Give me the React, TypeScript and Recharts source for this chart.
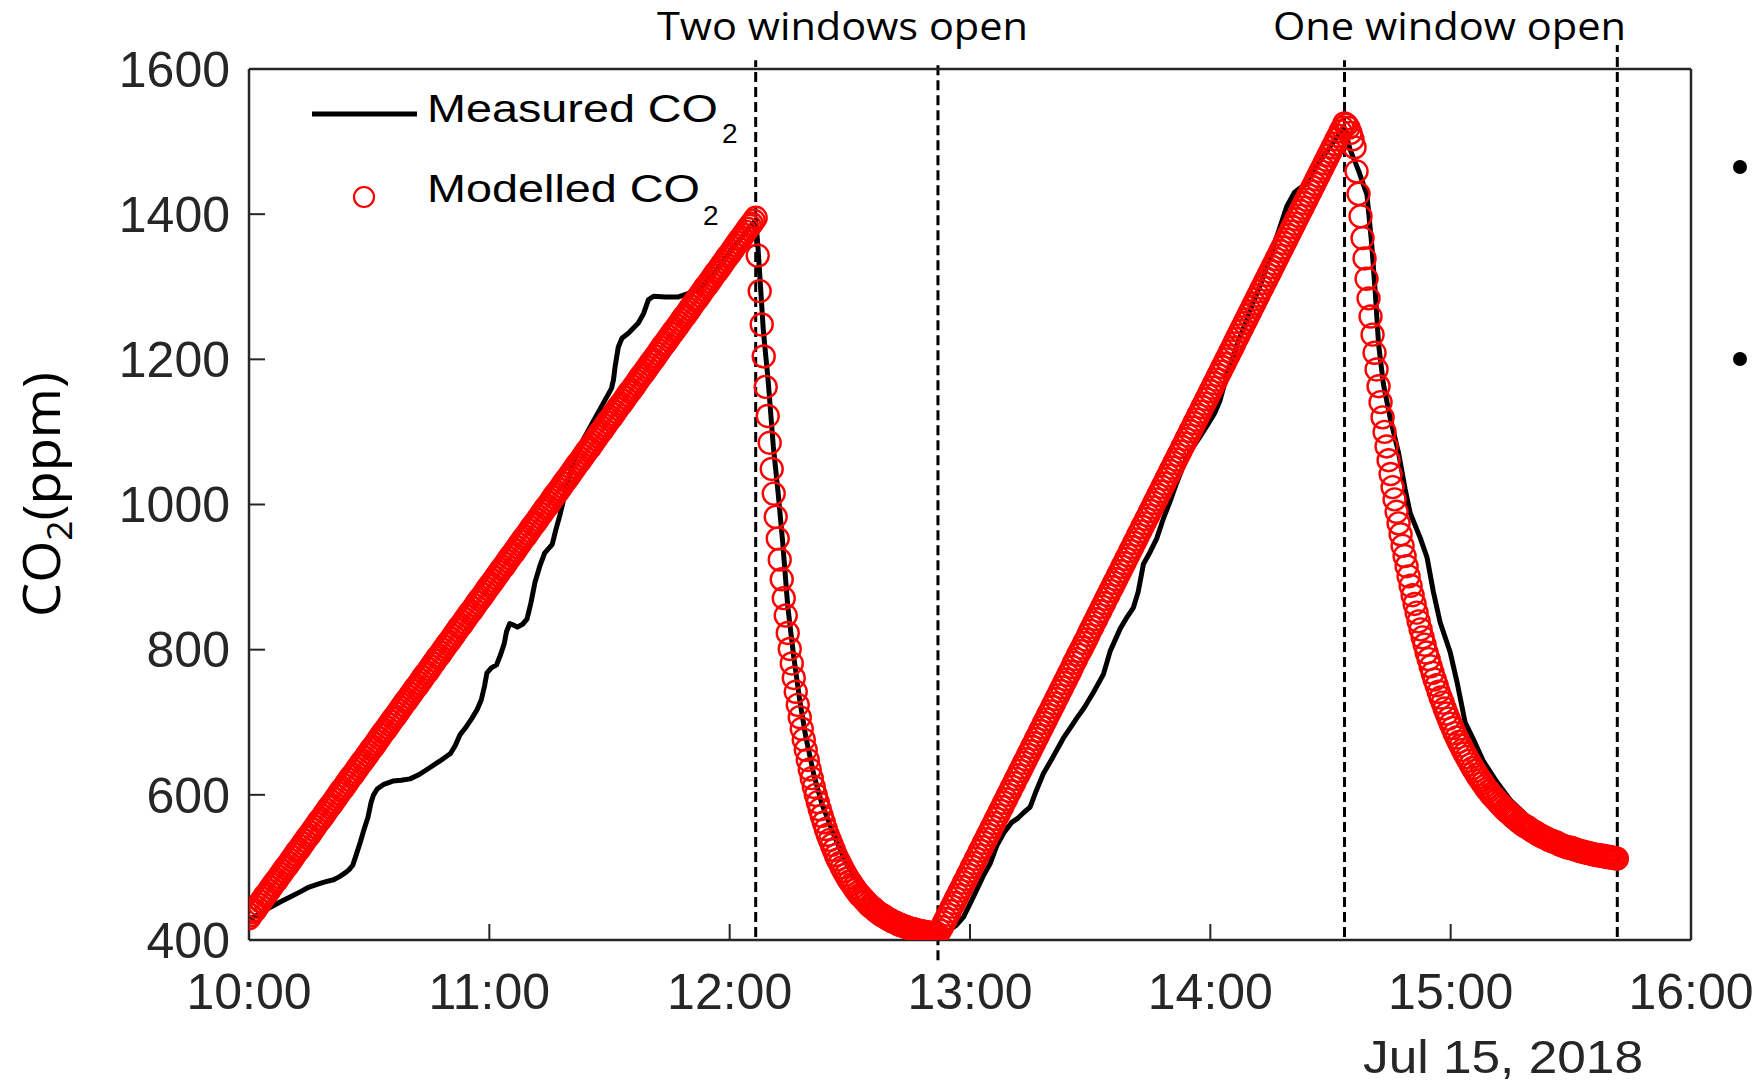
import React from 'react';
import { ComposedChart, XAxis, YAxis, Line, Scatter, ReferenceLine, Customized } from 'recharts';

// x values are minutes after 10:00 on Jul 15, 2018
const timeTicks = [0, 60, 120, 180, 240, 300, 360];
const timeLabels = ['10:00', '11:00', '12:00', '13:00', '14:00', '15:00', '16:00'];
const co2Ticks = [400, 600, 800, 1000, 1200, 1400, 1600];

const measuredMinutes = [
  0, 1.4, 3.5, 5.7, 8, 10.5, 13, 15, 17.2, 19, 21.1, 22.5, 23.9, 25, 25.9, 26.8, 27.8, 28.7, 29.7, 30.5,
  31.1, 32, 33.5, 35.9, 38, 40.2, 42.5, 45, 47.5, 50.3, 51.5, 52.7, 54, 55.6, 57, 58, 58.8, 59.4, 60.5, 61.8,
  62.8, 63.7, 64.3, 65.1, 66, 67, 68.3, 69.4, 70.4, 71.4, 72.6, 73.8, 75.7, 76.6, 77.6, 78.6, 79.5, 81.4, 83.5, 86,
  88.5, 90.5, 91, 91.4, 92.2, 93.1, 94.7, 97.2, 98.5, 99.7, 101, 104, 107.2, 112, 116, 120, 124, 126.5, 127, 127.6,
  128.4, 129.6, 130.9, 132.1, 133.2, 134.5, 136, 137.5, 139, 141, 143, 146, 149, 152, 155, 158, 161, 164, 167, 170,
  172, 173.5, 175, 176.5, 178.4, 180.9, 183.3, 185, 186.7, 188.5, 190.4, 192, 193.5, 195, 196.5, 198.3, 200.5, 203.3, 205, 206.7,
  208.5, 210.8, 213.3, 215, 217.5, 219, 220.8, 222, 223.3, 225, 226.6, 228.3, 230, 231.6, 234.1, 235.8, 237.5, 239.1, 241, 242.4,
  244.5, 247, 250, 253, 256.6, 259.1, 261, 262.4, 263.5, 266, 269, 271.5, 273.5, 274.9, 277, 279.1, 280.3, 281.2, 282, 283.2,
  284.9, 287, 288.6, 289.9, 292.4, 294.1, 295.7, 297.4, 299.9, 301.6, 303.6, 305.7, 308.2, 311.5, 315, 320, 325, 330, 335, 339,
];
const measuredPpm = [
  428, 432, 440, 446, 453, 460, 467, 473, 477, 480, 483, 487, 492, 497, 503, 518, 535, 552, 569, 590,
  600, 608, 614, 619, 620, 622, 628, 637, 646, 657, 668, 683, 692, 705, 718, 731, 750, 768, 775, 779,
  793, 808, 825, 836, 834, 831, 835, 842, 865, 893, 915, 933, 945, 965, 985, 1008, 1030, 1064, 1090, 1115,
  1140, 1160, 1172, 1190, 1217, 1229, 1236, 1250, 1263, 1282, 1287, 1286, 1286, 1295, 1318, 1348, 1375, 1392, 1360, 1309,
  1240, 1171, 1080, 1016, 950, 860, 790, 730, 680, 628, 588, 545, 507, 480, 460, 444, 432, 422, 415, 410,
  406, 406, 414, 420, 432, 460, 488, 505, 530, 548, 562, 568, 576, 583, 605, 629, 650, 678, 692, 706,
  720, 741, 766, 798, 829, 843, 858, 880, 918, 935, 953, 981, 1005, 1030, 1065, 1080, 1094, 1108, 1125, 1143,
  1185, 1225, 1268, 1310, 1369, 1411, 1430, 1436, 1440, 1462, 1486, 1505, 1518, 1489, 1460, 1427, 1358, 1290, 1221, 1166,
  1119, 1071, 1022, 988, 954, 927, 879, 837, 796, 755, 700, 676, 646, 618, 592, 566, 546, 528, 513, 502,
];

// modelled CO2 (ppm), one value every 30 s, one array per phase
const SAMPLE_MIN = 0.5;
const modelClosedA = [
  430, 434, 438, 441, 445, 449, 453, 457, 461, 464, 468, 472, 476, 480, 483, 487, 491, 495, 499, 502,
  506, 510, 514, 518, 522, 525, 529, 533, 537, 541, 544, 548, 552, 556, 560, 564, 567, 571, 575, 579,
  583, 586, 590, 594, 598, 602, 606, 609, 613, 617, 621, 625, 628, 632, 636, 640, 644, 647, 651, 655,
  659, 663, 666, 670, 674, 678, 682, 686, 689, 693, 697, 701, 705, 708, 712, 716, 720, 724, 728, 731,
  735, 739, 743, 747, 750, 754, 758, 762, 766, 769, 773, 777, 781, 785, 789, 792, 796, 800, 804, 808,
  811, 815, 819, 823, 827, 831, 834, 838, 842, 846, 850, 853, 857, 861, 865, 869, 872, 876, 880, 884,
  888, 891, 895, 899, 903, 907, 911, 914, 918, 922, 926, 930, 933, 937, 941, 945, 949, 953, 956, 960,
  964, 968, 972, 975, 979, 983, 987, 991, 995, 998, 1002, 1006, 1010, 1014, 1017, 1021, 1025, 1029, 1033, 1036,
  1040, 1044, 1048, 1052, 1056, 1059, 1063, 1067, 1071, 1075, 1078, 1082, 1086, 1090, 1094, 1098, 1101, 1105, 1109, 1113,
  1117, 1120, 1124, 1128, 1132, 1136, 1139, 1143, 1147, 1151, 1155, 1158, 1162, 1166, 1170, 1174, 1178, 1181, 1185, 1189,
  1193, 1197, 1200, 1204, 1208, 1212, 1216, 1220, 1223, 1227, 1231, 1235, 1239, 1242, 1246, 1250, 1254, 1258, 1261, 1265,
  1269, 1273, 1277, 1281, 1284, 1288, 1292, 1296, 1300, 1303, 1307, 1311, 1315, 1319, 1322, 1326, 1330, 1334, 1338, 1342,
  1345, 1349, 1353, 1357, 1361, 1365, 1368, 1372, 1376, 1380, 1384, 1387, 1391, 1395,
];
const modelTwoOpen = [
  1343, 1294, 1248, 1204, 1162, 1122, 1085, 1049, 1015, 983, 953, 924, 897, 871, 847, 823, 801, 781, 761, 742,
  724, 707, 691, 676, 662, 648, 635, 623, 611, 600, 590, 580, 571, 562, 553, 545, 538, 531, 524, 517,
  511, 506, 500, 495, 490, 485, 481, 477, 473, 469, 465, 462, 459, 456, 453, 450, 447, 445, 443, 440,
  438, 436, 434, 433, 431, 429, 428, 426, 425, 424, 422, 421, 420, 419, 418, 417, 416, 415, 415, 414,
  413, 412, 412, 411, 411, 410, 410, 409, 409, 408, 408,
];
const modelClosedB = [
  413, 418, 424, 429, 435, 440, 446, 451, 457, 462, 468, 473, 479, 484, 490, 495, 501, 506, 512,
  517, 523, 528, 534, 539, 545, 550, 556, 561, 567, 572, 578, 583, 589, 594, 600, 605, 611, 616, 622,
  627, 633, 638, 644, 649, 655, 660, 666, 671, 677, 682, 688, 693, 699, 704, 710, 715, 721, 726, 732,
  737, 743, 748, 754, 759, 765, 770, 776, 782, 787, 793, 798, 803, 809, 814, 820, 826, 831, 837, 842,
  848, 853, 859, 864, 870, 875, 881, 886, 892, 897, 903, 908, 914, 919, 925, 930, 936, 941, 947, 952,
  958, 963, 969, 974, 980, 985, 991, 996, 1002, 1007, 1013, 1018, 1024, 1029, 1035, 1040, 1046, 1051, 1057, 1062,
  1068, 1073, 1079, 1084, 1090, 1095, 1101, 1106, 1112, 1117, 1123, 1128, 1134, 1139, 1145, 1150, 1156, 1161, 1167, 1172,
  1178, 1183, 1189, 1194, 1200, 1205, 1211, 1216, 1222, 1228, 1233, 1239, 1244, 1250, 1255, 1261, 1266, 1272, 1277, 1283,
  1288, 1294, 1299, 1305, 1310, 1316, 1321, 1327, 1332, 1338, 1343, 1349, 1354, 1360, 1365, 1371, 1376, 1382, 1387, 1393,
  1398, 1404, 1409, 1415, 1420, 1426, 1431, 1437, 1442, 1448, 1453, 1459, 1464, 1470, 1475, 1481, 1486, 1492, 1497, 1503,
  1508, 1514, 1519, 1525,
];
const modelOneOpen = [
  1523, 1519, 1512, 1503,
  1492, 1459, 1428, 1397, 1367, 1339, 1311, 1284, 1259, 1234, 1209, 1186, 1163, 1141, 1120, 1100, 1080, 1061, 1042, 1024,
  1007, 990, 974, 959, 943, 929, 915, 901, 888, 875, 863, 851, 839, 828, 817, 807, 796, 787, 777, 768,
  759, 751, 742, 734, 727, 719, 712, 705, 698, 692, 685, 679, 673, 668, 662, 657, 652, 647, 642, 637,
  633, 628, 624, 620, 616, 612, 608, 605, 601, 598, 595, 592, 589, 586, 583, 580, 578, 575, 573, 570,
  568, 566, 563, 561, 559, 557, 556, 554, 552, 550, 549, 547, 545, 544, 542, 541, 540, 538, 537, 536,
  535, 534, 532, 531, 530, 529, 528, 527, 527, 526, 525, 524, 523, 522, 522, 521, 520, 520, 519, 518,
  518, 517, 517, 516, 516, 515, 515, 514, 514, 513, 513, 512,
];
// first sample time of each phase (minutes)
const modelPhases = [
  { start: 0, values: modelClosedA },
  { start: 127, values: modelTwoOpen },
  { start: 172.5, values: modelClosedB },
  { start: 274, values: modelOneOpen },
];

// window events: time, dashed line extent in ppm
const windowEvents = [
  { t: 126.5, from: 404, to: 1612 },
  { t: 172, from: 372, to: 1612 },
  { t: 273.5, from: 404, to: 1612 },
  { t: 341.6, from: 404, to: 1633 },
];

const measured = measuredMinutes.map((t, i) => ({ t, v: measuredPpm[i] }));
const modelled = modelPhases.flatMap((p) => p.values.map((v, i) => ({ t: p.start + i * SAMPLE_MIN, v })));

const AXIS = '#262626';
const tickFont = { fontSize: 50, fill: AXIS, fontFamily: '"Liberation Sans", Arial, sans-serif' };

function ModelMarker(props: any) {
  const { cx, cy } = props;
  if (cx == null || cy == null) return null;
  return <circle cx={cx} cy={cy} r={11} fill="none" stroke="#ff0000" strokeWidth={2.4} />;
}

function Annotations() {
  const sans = '"Liberation Sans", Arial, sans-serif';
  const open = '"Open Sans", sans-serif';
  return (
    <g>
      <text x={657} y={40} fontFamily={open} fontSize={38} fill="#000" textLength={371} lengthAdjust="spacingAndGlyphs">
        Two windows open
      </text>
      <text x={1273} y={40} fontFamily={open} fontSize={38} fill="#000" textLength={353} lengthAdjust="spacingAndGlyphs">
        One window open
      </text>

      <line x1={312} y1={114} x2={417} y2={114} stroke="#000" strokeWidth={5} />
      <text x={427} y={122} fontFamily={sans} fontSize={38} fill="#000" textLength={291} lengthAdjust="spacingAndGlyphs">
        Measured CO
      </text>
      <text x={722} y={143} fontFamily={sans} fontSize={28} fill="#000">2</text>
      <circle cx={364} cy={197} r={10} fill="none" stroke="#ff0000" strokeWidth={2.2} />
      <text x={427} y={202} fontFamily={sans} fontSize={38} fill="#000" textLength={273} lengthAdjust="spacingAndGlyphs">
        Modelled CO
      </text>
      <text x={703} y={225} fontFamily={sans} fontSize={28} fill="#000">2</text>

      <text transform="translate(60,617) rotate(-90)" fontFamily={open} fontSize={52} fill="#000" textLength={245} lengthAdjust="spacingAndGlyphs">
        CO<tspan fontSize={34} dy={12}>2</tspan><tspan dy={-12}>(ppm)</tspan>
      </text>

      <text x={1363} y={1073} fontFamily={sans} fontSize={46} fill={AXIS} textLength={280} lengthAdjust="spacingAndGlyphs">
        Jul 15, 2018
      </text>

      <circle cx={1740} cy={167} r={7} fill="#000" />
      <circle cx={1740} cy={359} r={7} fill="#000" />
    </g>
  );
}

export default function App() {
  return (
    <div style={{ position: 'absolute', left: 0, top: 0, width: 1759, height: 1084, background: '#fff' }}>
      <ComposedChart width={1759} height={1084} margin={{ top: 68, right: 67, bottom: 0, left: 0 }}>
        <XAxis
          xAxisId="b"
          type="number"
          dataKey="t"
          domain={[0, 360]}
          ticks={timeTicks}
          tickFormatter={(v) => timeLabels[timeTicks.indexOf(v)]}
          height={144}
          tickSize={-16}
          tickMargin={49}
          tick={tickFont}
          axisLine={{ stroke: AXIS, strokeWidth: 2.5 }}
          tickLine={{ stroke: AXIS, strokeWidth: 2 }}
          allowDataOverflow
        />
        <XAxis
          xAxisId="top"
          orientation="top"
          type="number"
          domain={[0, 360]}
          ticks={timeTicks}
          tick={false}
          height={1}
          tickSize={-16}
          axisLine={{ stroke: AXIS, strokeWidth: 2.5 }}
          tickLine={{ stroke: AXIS, strokeWidth: 2 }}
        />
        <YAxis
          yAxisId="l"
          type="number"
          domain={[400, 1600]}
          ticks={co2Ticks}
          width={249}
          tickSize={-16}
          tickMargin={35}
          tick={tickFont}
          axisLine={{ stroke: AXIS, strokeWidth: 2.5 }}
          tickLine={{ stroke: AXIS, strokeWidth: 2 }}
          allowDataOverflow
        />
        <YAxis
          yAxisId="r"
          orientation="right"
          type="number"
          domain={[400, 1600]}
          ticks={co2Ticks}
          width={1}
          tick={false}
          tickSize={-16}
          axisLine={{ stroke: AXIS, strokeWidth: 2.5 }}
          tickLine={{ stroke: AXIS, strokeWidth: 2 }}
        />
        <Line
          xAxisId="b"
          yAxisId="l"
          data={measured}
          dataKey="v"
          type="linear"
          stroke="#000"
          strokeWidth={5}
          strokeLinejoin="round"
          dot={false}
          activeDot={false}
          isAnimationActive={false}
        />
        <Scatter
          xAxisId="b"
          yAxisId="l"
          data={modelled}
          dataKey="v"
          shape={ModelMarker}
          isAnimationActive={false}
        />
        {windowEvents.map((e) => (
          <ReferenceLine
            key={e.t}
            xAxisId="b"
            yAxisId="l"
            segment={[{ x: e.t, y: e.from }, { x: e.t, y: e.to }]}
            ifOverflow="visible"
            stroke="#000"
            strokeWidth={3}
            strokeDasharray="10 5"
          />
        ))}
        <Customized component={Annotations} />
      </ComposedChart>
    </div>
  );
}
